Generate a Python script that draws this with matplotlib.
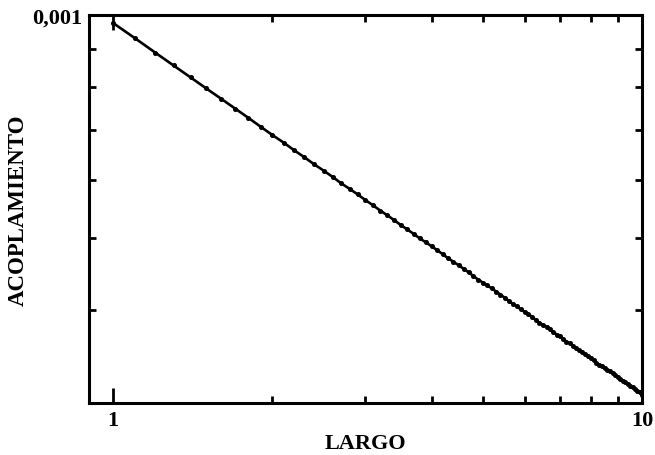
import matplotlib
matplotlib.use("Agg")
import matplotlib.pyplot as plt
from matplotlib.ticker import FixedLocator, FixedFormatter, NullFormatter

# length samples and coupling values (units of 1e-4)
largo = [1.0, 1.1, 1.2, 1.3, 1.4, 1.5, 1.6, 1.7, 1.8, 1.9,
         2.0, 2.1, 2.2, 2.3, 2.4, 2.5, 2.6, 2.7, 2.8, 2.9,
         3.0, 3.1, 3.2, 3.3, 3.4, 3.5, 3.6, 3.7, 3.8, 3.9,
         4.0, 4.1, 4.2, 4.3, 4.4, 4.5, 4.6, 4.7, 4.8, 4.9,
         5.0, 5.1, 5.2, 5.3, 5.4, 5.5, 5.6, 5.7, 5.8, 5.9,
         6.0, 6.1, 6.2, 6.3, 6.4, 6.5, 6.6, 6.7, 6.8, 6.9,
         7.0, 7.1, 7.2, 7.3, 7.4, 7.5, 7.6, 7.7, 7.8, 7.9,
         8.0, 8.1, 8.2, 8.3, 8.4, 8.5, 8.6, 8.7, 8.8, 8.9,
         9.0, 9.1, 9.2, 9.3, 9.4, 9.5, 9.6, 9.7, 9.8, 9.9, 10.0]
acoplamiento_e4 = [9.75, 9.30, 8.90, 8.55, 8.24, 7.96, 7.71, 7.48, 7.27, 7.07,
                   6.89, 6.73, 6.57, 6.43, 6.29, 6.17, 6.05, 5.93, 5.83, 5.73,
                   5.63, 5.54, 5.45, 5.37, 5.29, 5.21, 5.14, 5.07, 5.00, 4.94,
                   4.88, 4.82, 4.76, 4.70, 4.65, 4.60, 4.55, 4.50, 4.45, 4.40,
                   4.36, 4.32, 4.28, 4.24, 4.20, 4.16, 4.12, 4.08, 4.05, 4.01,
                   3.98, 3.95, 3.92, 3.88, 3.85, 3.82, 3.80, 3.77, 3.74, 3.71,
                   3.69, 3.66, 3.63, 3.61, 3.58, 3.56, 3.54, 3.51, 3.49, 3.47,
                   3.45, 3.43, 3.40, 3.38, 3.36, 3.34, 3.32, 3.31, 3.29, 3.27,
                   3.25, 3.23, 3.21, 3.20, 3.18, 3.16, 3.15, 3.13, 3.11, 3.10, 3.08]

x_major = [1, 10]
x_major_labels = ["1", "10"]
x_minor = [2, 3, 4, 5, 6, 7, 8, 9]
y_major = [1e-3]
y_major_labels = ["0,001"]
y_minor = [3e-4, 4e-4, 5e-4, 6e-4, 7e-4, 8e-4, 9e-4]

plt.rcParams["font.family"] = ["Liberation Serif", "DejaVu Serif"]
plt.rcParams["font.weight"] = "bold"

fig = plt.figure(figsize=(6.55, 4.56), dpi=100)
ax = fig.add_axes([0.136, 0.114, 0.844, 0.851])

y = [v * 1e-4 for v in acoplamiento_e4]
ax.plot(largo, y, color="black", linewidth=1.9, marker="o", markersize=2.6)

ax.set_xscale("log")
ax.set_yscale("log")
ax.set_xlim(0.9, 10)
ax.set_ylim(3e-4, 1e-3)

ax.xaxis.set_major_locator(FixedLocator(x_major))
ax.xaxis.set_major_formatter(FixedFormatter(x_major_labels))
ax.xaxis.set_minor_locator(FixedLocator(x_minor))
ax.xaxis.set_minor_formatter(NullFormatter())
ax.yaxis.set_major_locator(FixedLocator(y_major))
ax.yaxis.set_major_formatter(FixedFormatter(y_major_labels))
ax.yaxis.set_minor_locator(FixedLocator(y_minor))
ax.yaxis.set_minor_formatter(NullFormatter())

ax.tick_params(which="both", direction="in", top=True, right=True,
               width=2, colors="black", labelsize=16)
ax.tick_params(which="major", length=11, pad=5)
ax.tick_params(which="minor", length=5)

for side in ax.spines.values():
    side.set_linewidth(2.2)

ax.set_xlabel("LARGO", fontsize=16, fontweight="bold", labelpad=2)
ax.set_ylabel("ACOPLAMIENTO", fontsize=16.5, fontweight="bold", labelpad=2)

fig.savefig("out.png", dpi=100)
